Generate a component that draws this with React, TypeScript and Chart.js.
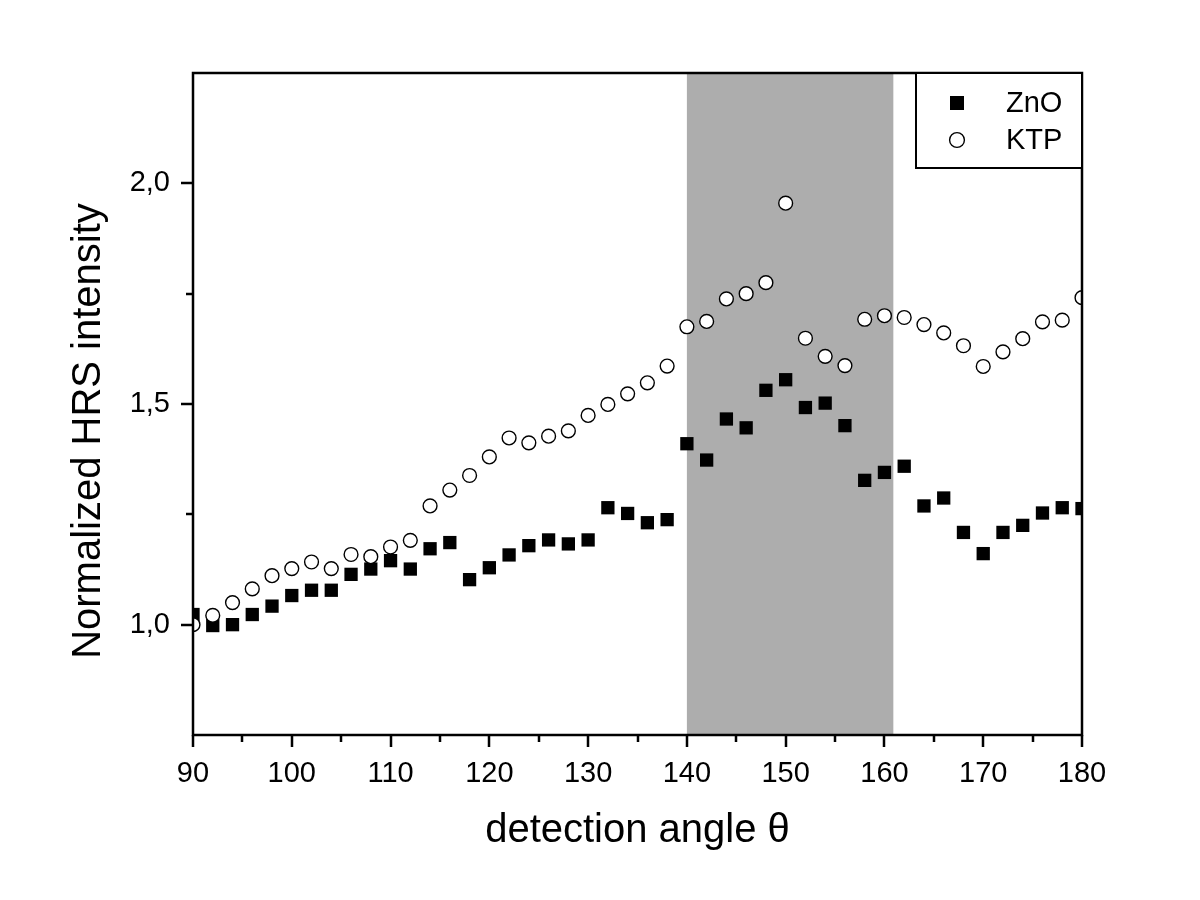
import React, { useEffect, useRef } from 'react';
import { Chart, registerables } from 'chart.js';

Chart.register(...registerables);

const ANGLES = [90, 92, 94, 96, 98, 100, 102, 104, 106, 108, 110, 112, 114, 116, 118, 120, 122, 124, 126, 128, 130, 132, 134, 136, 138, 140, 142, 144, 146, 148, 150, 152, 154, 156, 158, 160, 162, 164, 166, 168, 170, 172, 174, 176, 178, 180];

const ZNO = [1.023, 0.998, 1.0, 1.023, 1.042, 1.066, 1.078, 1.078, 1.114, 1.126, 1.145, 1.126, 1.172, 1.186, 1.102, 1.129, 1.158, 1.179, 1.192, 1.183, 1.192, 1.265, 1.252, 1.231, 1.238, 1.41, 1.373, 1.466, 1.446, 1.531, 1.555, 1.492, 1.502, 1.451, 1.327, 1.345, 1.359, 1.269, 1.287, 1.209, 1.161, 1.209, 1.225, 1.253, 1.265, 1.263];

const KTP = [1.0, 1.021, 1.05, 1.081, 1.111, 1.127, 1.142, 1.127, 1.159, 1.154, 1.176, 1.191, 1.269, 1.305, 1.338, 1.38, 1.423, 1.412, 1.427, 1.439, 1.474, 1.499, 1.523, 1.548, 1.586, 1.675, 1.687, 1.738, 1.75, 1.775, 1.955, 1.649, 1.608, 1.587, 1.692, 1.7, 1.696, 1.68, 1.661, 1.632, 1.585, 1.618, 1.648, 1.686, 1.69, 1.741];

const SERIES_NAMES = ['ZnO', 'KTP'];
const X_TITLE = 'detection angle θ';
const Y_TITLE = 'Normalized HRS intensity';
const X_TICKS = [90, 100, 110, 120, 130, 140, 150, 160, 170, 180];
const X_MINOR = [95, 105, 115, 125, 135, 145, 155, 165, 175];
const Y_TICKS = [1.0, 1.5, 2.0];
const Y_MINOR = [1.25, 1.75];
const X_RANGE = [90, 180];
const Y_RANGE = [0.75, 2.25];
const SHADE_RANGE = [140, 160.9];

const FONT = "'Liberation Sans', Arial, Helvetica, sans-serif";

const framePlugin = {
  id: 'frame',
  beforeDatasetsDraw(chart: any) {
    const { ctx, chartArea: a, scales } = chart;
    const x = scales.x;
    const x0 = x.getPixelForValue(SHADE_RANGE[0]);
    const x1 = x.getPixelForValue(SHADE_RANGE[1]);
    ctx.save();
    ctx.fillStyle = '#adadad';
    ctx.fillRect(x0, a.top, x1 - x0, a.bottom - a.top);
    ctx.restore();
  },
  afterDatasetsDraw(chart: any) {
    const { ctx, chartArea: a, scales } = chart;
    const x = scales.x;
    const y = scales.y;
    ctx.save();
    ctx.strokeStyle = '#000';
    ctx.lineWidth = 2.5;
    ctx.lineCap = 'butt';
    // ticks
    ctx.beginPath();
    X_TICKS.forEach((v) => {
      const px = Math.round(x.getPixelForValue(v));
      ctx.moveTo(px, a.bottom);
      ctx.lineTo(px, a.bottom + 12);
    });
    X_MINOR.forEach((v) => {
      const px = Math.round(x.getPixelForValue(v));
      ctx.moveTo(px, a.bottom);
      ctx.lineTo(px, a.bottom + 7);
    });
    Y_TICKS.forEach((v) => {
      const py = Math.round(y.getPixelForValue(v));
      ctx.moveTo(a.left, py);
      ctx.lineTo(a.left - 12, py);
    });
    Y_MINOR.forEach((v) => {
      const py = Math.round(y.getPixelForValue(v));
      ctx.moveTo(a.left, py);
      ctx.lineTo(a.left - 7, py);
    });
    ctx.stroke();
    // frame
    ctx.strokeRect(a.left, a.top, a.right - a.left, a.bottom - a.top);

    // y title
    ctx.save();
    ctx.translate(89, (a.top + a.bottom) / 2 + 27);
    ctx.rotate(-Math.PI / 2);
    ctx.fillStyle = '#000';
    ctx.font = `40px ${FONT}`;
    ctx.textAlign = 'center';
    ctx.textBaseline = 'middle';
    ctx.fillText(Y_TITLE, 0, 0);
    ctx.restore();

    // legend box
    const lw = 166;
    const lh = 95;
    const lx = a.right - lw;
    const ly = a.top;
    ctx.fillStyle = '#fff';
    ctx.fillRect(lx, ly, lw, lh);
    ctx.lineWidth = 2;
    ctx.strokeRect(lx, ly, lw, lh);
    // markers
    const mx = lx + 41;
    const my1 = ly + 30;
    const my2 = ly + 67;
    ctx.fillStyle = '#000';
    ctx.fillRect(mx - 7, my1 - 7, 14, 14);
    ctx.beginPath();
    ctx.arc(mx, my2, 7.4, 0, Math.PI * 2);
    ctx.fillStyle = '#fff';
    ctx.fill();
    ctx.lineWidth = 1.4;
    ctx.strokeStyle = '#000';
    ctx.stroke();
    ctx.fillStyle = '#000';
    ctx.font = `29px ${FONT}`;
    ctx.textAlign = 'left';
    ctx.textBaseline = 'middle';
    ctx.fillText(SERIES_NAMES[0], lx + 90, my1 + 1);
    ctx.fillText(SERIES_NAMES[1], lx + 90, my2 + 1);
    ctx.restore();
  },
};

export default function App() {
  const canvasRef = useRef<HTMLCanvasElement | null>(null);

  useEffect(() => {
    const canvas = canvasRef.current;
    if (!canvas) return;
    const chart = new Chart(canvas, {
      type: 'scatter',
      data: {
        datasets: [
          {
            label: SERIES_NAMES[0],
            data: ANGLES.map((a, i) => ({ x: a, y: ZNO[i] })),
            pointStyle: 'rect',
            pointRadius: 9.4,
            backgroundColor: '#000',
            borderColor: '#000',
            borderWidth: 0,
            order: 1,
            clip: 0,
          } as any,
          {
            label: SERIES_NAMES[1],
            data: ANGLES.map((a, i) => ({ x: a, y: KTP[i] })),
            pointStyle: 'circle',
            pointRadius: 6.9,
            backgroundColor: '#fff',
            borderColor: '#000',
            borderWidth: 1.4,
            order: 0,
            clip: 0,
          } as any,
        ],
      },
      options: {
        responsive: false,
        animation: false,
        events: [],
        layout: { padding: { top: 73, right: 118, left: 0, bottom: 0 } },
        plugins: {
          legend: { display: false },
          tooltip: { enabled: false },
        },
        scales: {
          x: {
            type: 'linear',
            min: X_RANGE[0],
            max: X_RANGE[1],
            afterBuildTicks: (s: any) => {
              s.ticks = X_TICKS.map((v) => ({ value: v }));
            },
            afterFit: (s: any) => {
              s.height = 165;
            },
            grid: { display: false, drawTicks: false },
            border: { display: false },
            ticks: {
              autoSkip: false,
              maxRotation: 0,
              padding: 22,
              color: '#000',
              font: { size: 29, family: FONT },
              callback: (v: any) => String(v),
            },
            title: {
              display: true,
              text: X_TITLE,
              color: '#000',
              font: { size: 40, family: FONT },
              padding: { top: 0, bottom: 45 },
            },
          },
          y: {
            type: 'linear',
            min: Y_RANGE[0],
            max: Y_RANGE[1],
            afterBuildTicks: (s: any) => {
              s.ticks = Y_TICKS.map((v) => ({ value: v }));
            },
            afterFit: (s: any) => {
              s.width = 193;
            },
            grid: { display: false, drawTicks: false },
            border: { display: false },
            ticks: {
              autoSkip: false,
              padding: 23,
              color: '#000',
              font: { size: 29, family: FONT },
              callback: (v: any) => Number(v).toFixed(1).replace('.', ','),
            },
            title: { display: false },
          },
        },
      },
      plugins: [framePlugin],
    });
    return () => chart.destroy();
  }, []);

  return (
    <div style={{ position: 'absolute', left: 0, top: 0, width: 1200, height: 900, background: '#fff' }}>
      <canvas ref={canvasRef} width={1200} height={900} style={{ width: 1200, height: 900 }} />
    </div>
  );
}
